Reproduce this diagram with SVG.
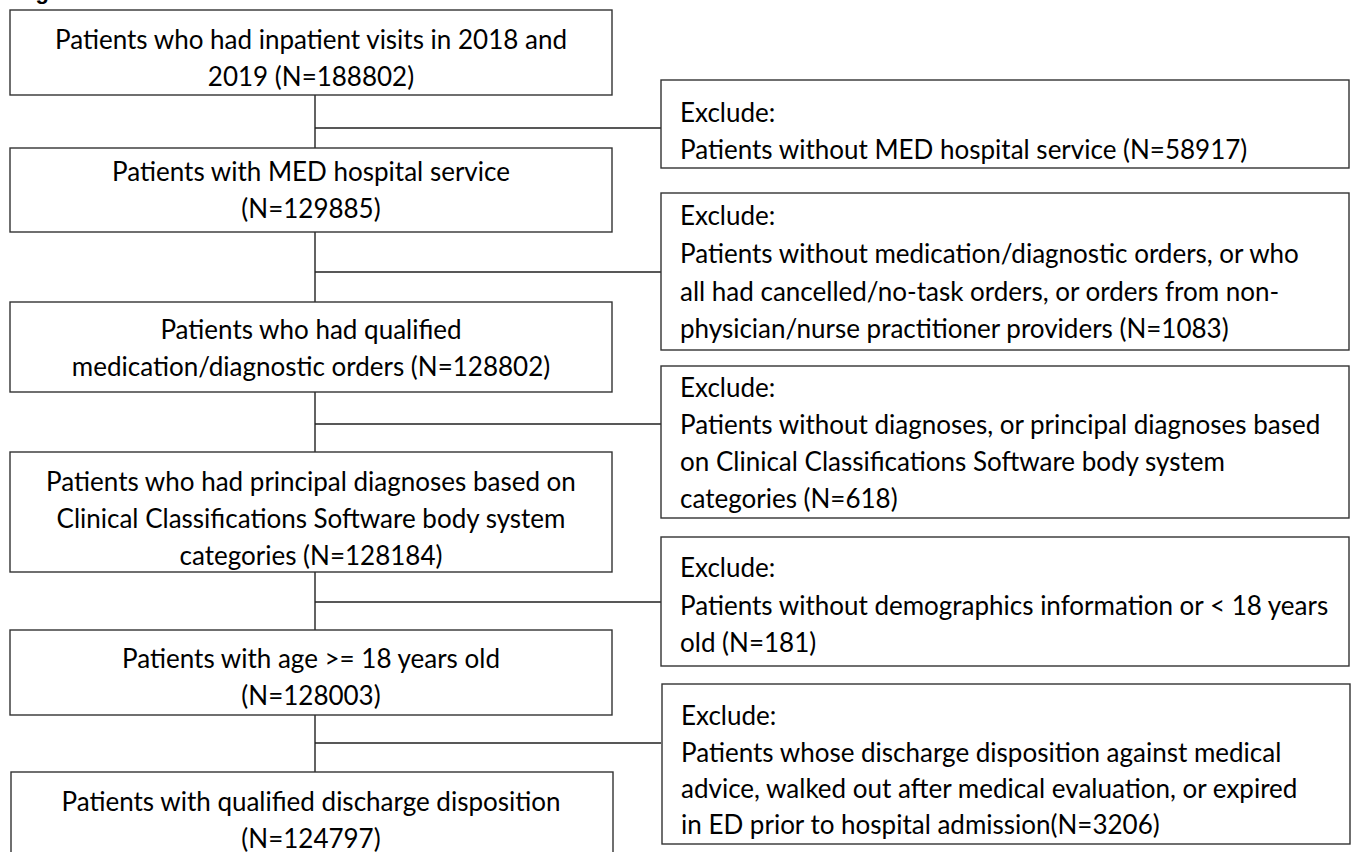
<svg xmlns="http://www.w3.org/2000/svg" width="1353" height="852" viewBox="0 0 1353 852">
<style>
.box{fill:#fff;stroke:#333;stroke-width:1.4}
.t{font-family:Lato,"Liberation Sans",sans-serif;font-size:26px;fill:#000}
.c{text-anchor:middle}
.conn{stroke:#222;stroke-width:1.4;fill:none}
.title{font-family:"Liberation Sans",Arial,sans-serif;font-size:22px;font-weight:bold;fill:#000}
</style>
<rect width="1353" height="852" fill="#fff"/>
<text class="title" x="16" y="-1.5">Figure</text>
<g id="connectors">
<path class="conn" d="M315 95V148M315 128H661"/>
<path class="conn" d="M315 232V302M315 272H661"/>
<path class="conn" d="M315 392V452M315 424H661"/>
<path class="conn" d="M315 572V630M315 602H661"/>
<path class="conn" d="M315 715V772M315 743H661"/>
</g>
<g id="n1"><rect class="box" x="10" y="10" width="602" height="85"/>
<text class="t c" x="311" y="49">Patients who had inpatient visits in 2018 and</text>
<text class="t c" x="311" y="86">2019 (N=188802)</text></g>
<g id="n2"><rect class="box" x="10" y="148" width="602" height="84"/>
<text class="t c" x="311" y="181">Patients with MED hospital service</text>
<text class="t c" x="311" y="218">(N=129885)</text></g>
<g id="n3"><rect class="box" x="10" y="302" width="602" height="90"/>
<text class="t c" x="311" y="339">Patients who had qualified</text>
<text class="t c" x="311" y="376">medication/diagnostic orders (N=128802)</text></g>
<g id="n4"><rect class="box" x="10" y="452" width="602" height="120"/>
<text class="t c" x="311" y="491">Patients who had principal diagnoses based on</text>
<text class="t c" x="311" y="528">Clinical Classifications Software body system</text>
<text class="t c" x="311" y="565">categories (N=128184)</text></g>
<g id="n5"><rect class="box" x="10" y="630" width="602" height="85"/>
<text class="t c" x="311" y="668">Patients with age &gt;= 18 years old</text>
<text class="t c" x="311" y="705">(N=128003)</text></g>
<g id="n6"><rect class="box" x="11" y="772" width="602" height="90"/>
<text class="t c" x="311" y="811">Patients with qualified discharge disposition</text>
<text class="t c" x="311" y="848">(N=124797)</text></g>
<g id="x1"><rect class="box" x="661" y="80" width="688" height="88"/>
<text class="t" x="680" y="122">Exclude:</text>
<text class="t" x="680" y="159">Patients without MED hospital service (N=58917)</text></g>
<g id="x2"><rect class="box" x="661" y="193" width="688" height="157"/>
<text class="t" x="680" y="225">Exclude:</text>
<text class="t" x="680" y="263">Patients without medication/diagnostic orders, or who</text>
<text class="t" x="680" y="301">all had cancelled/no-task orders, or orders from non-</text>
<text class="t" x="680" y="338">physician/nurse practitioner providers (N=1083)</text></g>
<g id="x3"><rect class="box" x="661" y="366" width="688" height="152"/>
<text class="t" x="680" y="397">Exclude:</text>
<text class="t" x="680" y="434">Patients without diagnoses, or principal diagnoses based</text>
<text class="t" x="680" y="471">on Clinical Classifications Software body system</text>
<text class="t" x="680" y="508">categories (N=618)</text></g>
<g id="x4"><rect class="box" x="661" y="537" width="688" height="129"/>
<text class="t" x="680" y="577">Exclude:</text>
<text class="t" x="680" y="615">Patients without demographics information or &lt; 18 years</text>
<text class="t" x="680" y="652">old (N=181)</text></g>
<g id="x5"><rect class="box" x="662" y="684" width="688" height="160"/>
<text class="t" x="681" y="725">Exclude:</text>
<text class="t" x="681" y="762">Patients whose discharge disposition against medical</text>
<text class="t" x="681" y="798">advice, walked out after medical evaluation, or expired</text>
<text class="t" x="681" y="834">in ED prior to hospital admission(N=3206)</text></g>
</svg>
